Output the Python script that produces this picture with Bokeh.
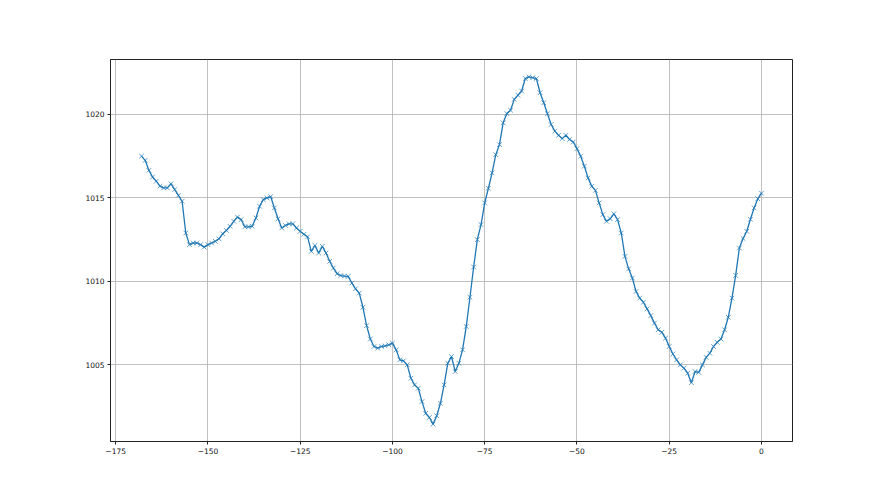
from bokeh.plotting import figure
from bokeh.models import Range1d, FixedTicker
from bokeh.embed import file_html
from bokeh.resources import INLINE

# Hours relative to now (hourly readings)
hours = list(range(-168, 1))

# Pressure readings (hPa)
pressure = [
    1017.5, 1017.25, 1016.65, 1016.25, 1016.0, 1015.7, 1015.6, 1015.6, 1015.85, 1015.5,
    1015.15, 1014.8, 1012.9, 1012.2, 1012.3, 1012.3, 1012.2, 1012.05, 1012.2, 1012.3,
    1012.4, 1012.55, 1012.85, 1013.05, 1013.3, 1013.6, 1013.85, 1013.7, 1013.27, 1013.27,
    1013.3, 1013.8, 1014.5, 1014.9, 1015.0, 1015.08, 1014.4, 1013.75, 1013.2, 1013.35,
    1013.45, 1013.45, 1013.2, 1013.0, 1012.82, 1012.67, 1011.8, 1012.15, 1011.7, 1012.1,
    1011.7, 1011.2, 1010.8, 1010.46, 1010.35, 1010.32, 1010.3, 1009.9, 1009.56, 1009.3,
    1008.45, 1007.35, 1006.55, 1006.1, 1006.0, 1006.1, 1006.14, 1006.2, 1006.3, 1005.9,
    1005.3, 1005.24, 1005.0, 1004.2, 1003.8, 1003.6, 1002.8, 1002.1, 1001.85, 1001.45,
    1001.95, 1002.7, 1003.8, 1005.1, 1005.5, 1004.6, 1005.1, 1005.9, 1007.3, 1009.05,
    1010.86, 1012.5, 1013.4, 1014.7, 1015.58, 1016.5, 1017.59, 1018.19, 1019.5, 1020.05,
    1020.25, 1020.9, 1021.15, 1021.4, 1022.15, 1022.25, 1022.2, 1022.15, 1021.3, 1020.7,
    1020.04, 1019.4, 1019.0, 1018.75, 1018.55, 1018.75, 1018.5, 1018.35, 1017.95, 1017.5,
    1016.9, 1016.2, 1015.7, 1015.45, 1014.7, 1014.0, 1013.6, 1013.75, 1014.05, 1013.7,
    1012.9, 1011.5, 1010.75, 1010.2, 1009.4, 1009.0, 1008.75, 1008.35, 1007.95, 1007.5,
    1007.1, 1006.95, 1006.6, 1006.1, 1005.65, 1005.3, 1005.0, 1004.8, 1004.5, 1003.93,
    1004.6, 1004.55, 1005.0, 1005.45, 1005.7, 1006.1, 1006.35, 1006.55, 1007.1, 1007.85,
    1009.0, 1010.36, 1012.0, 1012.57, 1013.0, 1013.72, 1014.4, 1014.95, 1015.28,
]

x_ticks = [-175, -150, -125, -100, -75, -50, -25, 0]
x_tick_labels = ["\u2212175", "\u2212150", "\u2212125", "\u2212100", "\u221275", "\u221250", "\u221225", "0"]
y_ticks = [1005, 1010, 1015, 1020]

xmin, xmax = min(hours), max(hours)
ymin, ymax = min(pressure), max(pressure)
xpad = 0.05 * (xmax - xmin)
ypad = 0.05 * (ymax - ymin)

p = figure(width=864, height=479, output_backend="svg", toolbar_location=None,
           x_range=Range1d(xmin - xpad, xmax + xpad),
           y_range=Range1d(ymin - ypad, ymax + ypad),
           min_border_left=110, min_border_right=72, min_border_top=59, min_border_bottom=38)

p.outline_line_color = "#222222"
p.outline_line_width = 1
p.background_fill_color = "white"
p.border_fill_color = "white"

p.xaxis.ticker = FixedTicker(ticks=x_ticks)
p.yaxis.ticker = FixedTicker(ticks=y_ticks)
p.xaxis.major_label_overrides = dict(zip(x_ticks, x_tick_labels))
for ax in (p.xaxis, p.yaxis):
    ax.major_label_text_font = "DejaVu Sans"
    ax.major_label_text_font_size = "7.5px"
    ax.major_label_text_color = "#111111"
    ax.axis_line_color = "#222222"
    ax.major_tick_line_color = "#222222"
    ax.major_tick_in = 0
    ax.major_tick_out = 3
    ax.minor_tick_line_color = None
    ax.major_label_standoff = 3

p.xgrid.grid_line_color = "#b0b0b0"
p.ygrid.grid_line_color = "#b0b0b0"
p.xgrid.grid_line_width = 0.8
p.ygrid.grid_line_width = 0.8

p.line(hours, pressure, line_color="#1f77b4", line_width=1.3)
p.scatter(hours, pressure, marker="x", size=6.5, line_color="#1f77b4", line_width=1, line_alpha=0.7)

open("out.html", "w").write(file_html(p, INLINE))
